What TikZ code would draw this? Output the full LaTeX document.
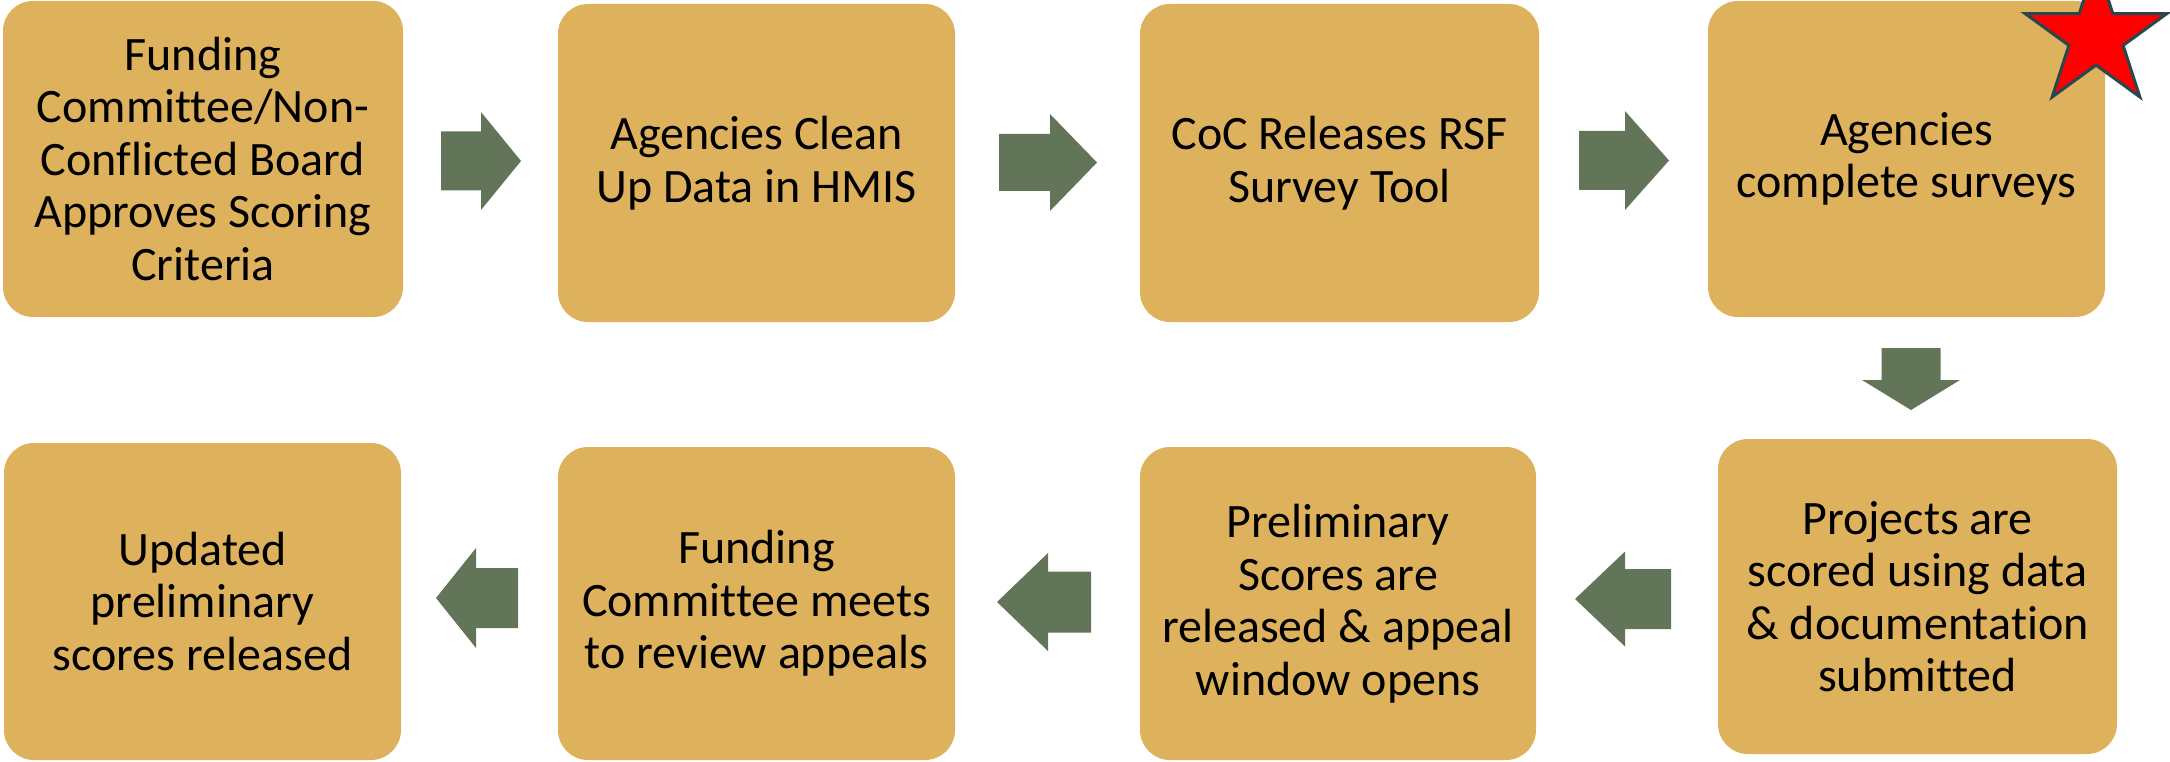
\documentclass[tikz,border=0pt]{standalone}
\usepackage{fontspec}
\setmainfont{Carlito}[Ligatures=NoCommon]
\definecolor{stepfill}{RGB}{222,177,92}
\definecolor{arrowfill}{RGB}{98,117,89}
\definecolor{staredge}{RGB}{38,72,78}
\tikzset{
  stepbox/.style={fill=stepfill, rounded corners=30pt, align=center,
    inner sep=0pt, font=\fontsize{48}{52.5}\selectfont, text=black},
  blk tail/.store in=\blktail, blk head/.store in=\blkhead,
  blk shaft/.store in=\blkshaft, blk wide/.store in=\blkwide,
  blk tail=40, blk head=40, blk shaft=29.5, blk wide=49,
  blockarrow/.pic={
    \fill[arrowfill] (-\blktail,-\blkshaft) -- (0,-\blkshaft) -- (0,-\blkwide)
      -- (\blkhead,0) -- (0,\blkwide) -- (0,\blkshaft) -- (-\blktail,\blkshaft) -- cycle;
  }
}
\begin{document}
\begin{tikzpicture}[x=1pt,y=-1pt]
\useasboundingbox (0,0) rectangle (2170,762);
\clip (0,0) rectangle (2170,762);

% top row, left to right
\node[stepbox, minimum width=400pt, minimum height=316pt] (b1) at (203,159)
  {Funding\\Committee/Non-\\Conflicted Board\\Approves Scoring\\Criteria};
\node[stepbox, minimum width=397pt, minimum height=318pt] (b2) at (756.5,163)
  {Agencies Clean\\Up Data in HMIS};
\node[stepbox, minimum width=399pt, minimum height=318pt] (b3) at (1339.5,163)
  {CoC Releases RSF\\Survey Tool};
\node[stepbox, minimum width=397pt, minimum height=316pt] (b4) at (1906.5,159)
  {Agencies\\complete surveys};

% bottom row, right to left
\node[stepbox, minimum width=399pt, minimum height=315pt] (b5) at (1917.5,596.5)
  {Projects are\\scored using data\\\& documentation\\submitted};
\node[stepbox, minimum width=396pt, minimum height=313pt] (b6) at (1338,603.5)
  {Preliminary\\Scores are\\released \& appeal\\window opens};
\node[stepbox, minimum width=397pt, minimum height=313pt] (b7) at (756.5,603.5)
  {Funding\\Committee meets\\to review appeals};
\node[stepbox, minimum width=397pt, minimum height=317pt] (b8) at (202.5,601.5)
  {Updated\\preliminary\\scores released};

% block arrows between the steps
\pic (a1) [blk tail=40, blk head=40] at (481,161) {blockarrow};
\pic (a2) [blk tail=51, blk head=47, blk shaft=28.5, blk wide=48.5] at (1050,162.5) {blockarrow};
\pic (a3) [blk tail=46, blk head=44, blk shaft=29.5, blk wide=49.5] at (1625,160.5) {blockarrow};
\pic (a4) [rotate=-90, blk tail=32, blk head=30, blk shaft=29.5, blk wide=49] at (1911,380) {blockarrow};
\pic (a5) [rotate=180, blk tail=46, blk head=50, blk shaft=30, blk wide=47.5] at (1625,599) {blockarrow};
\pic (a6) [rotate=180, blk tail=43, blk head=51, blk shaft=30.5, blk wide=49] at (1048,602) {blockarrow};
\pic (a7) [rotate=180, blk tail=42, blk head=40, blk shaft=30, blk wide=50] at (476,598) {blockarrow};

% star on the fourth step
\fill[red, draw=staredge, line width=3pt, line join=miter]
  (2096,36.6) +(-90:74.6) -- +(-54:28.5) -- +(-18:74.6) -- +(18:28.5)
  -- +(54:74.6) -- +(90:28.5) -- +(126:74.6) -- +(162:28.5)
  -- +(198:74.6) -- +(234:28.5) -- cycle;
\end{tikzpicture}
\end{document}
